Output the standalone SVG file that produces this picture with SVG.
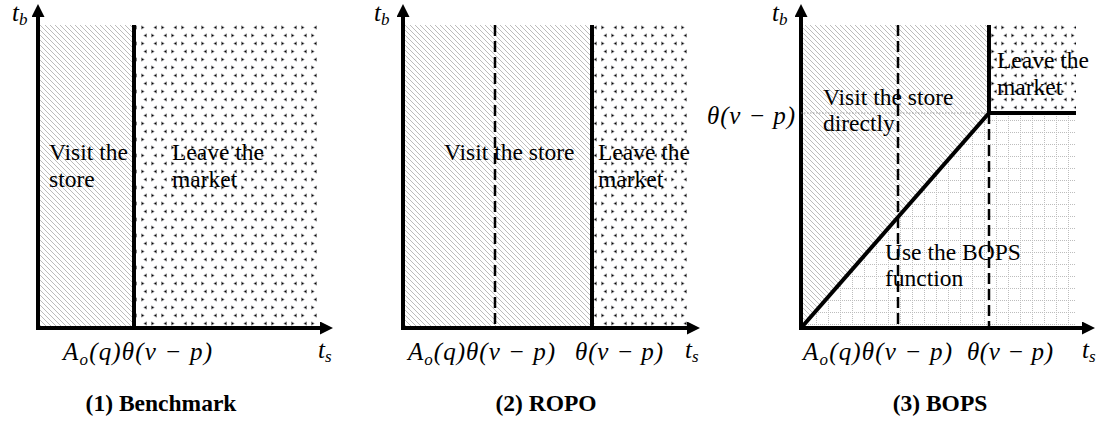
<svg xmlns="http://www.w3.org/2000/svg" width="1114" height="423" viewBox="0 0 1114 423">
<style>
.lbl{font-family:"Liberation Serif","Times New Roman",serif;font-size:23.5px;fill:#000}
.ttl{font-family:"Liberation Serif","Times New Roman",serif;font-size:23.5px;font-weight:bold;fill:#000;text-anchor:middle}
.math{font-family:"Liberation Serif","Times New Roman",serif;font-style:italic;font-size:25px;fill:#000}
.ax{stroke:#000;stroke-width:4;fill:none}
.bd{stroke:#000;stroke-width:4;fill:none}
.dash{stroke:#000;stroke-width:2.5;fill:none;stroke-dasharray:11 5}
.thin{stroke:#888;stroke-width:0.8;fill:none;stroke-dasharray:1.5 1.5}
</style>
<defs>
<pattern id="hatch" width="5" height="5" patternUnits="userSpaceOnUse">
<path d="M0,0 L5,5 M-1,4 L1,6 M4,-1 L6,1" stroke="#b4b4b4" stroke-width="0.9"/>
</pattern>
<pattern id="dots" width="20" height="16" patternUnits="userSpaceOnUse">
<path d="M6.5,1.5 L3.5,3.5 L6.5,5.5 M11.5,1.5 L14.5,3.5 L11.5,5.5 M16.5,9.5 L13.5,11.5 L16.5,13.5 M1.5,9.5 L4.5,11.5 L1.5,13.5" stroke="#d8d8de" stroke-width="0.8"/>
</pattern>
<pattern id="grid" width="12" height="12" patternUnits="userSpaceOnUse">
<path d="M0,0.5 H12 M0.5,0 V12" stroke="#bdbdbd" stroke-width="1" stroke-dasharray="1 1"/>
</pattern>
<marker id="arr" markerUnits="userSpaceOnUse" markerWidth="13" markerHeight="13" refX="5" refY="6.5" orient="auto">
<path d="M0,0 L13,6.5 L0,13 z" fill="#000"/>
</marker>
</defs>
<rect width="1114" height="423" fill="#fff"/>

<g id="panel1">
<g id="p1-visit"><rect x="38" y="25" width="96" height="303" fill="url(#hatch)"/>
<text class="lbl" x="49" y="160">Visit the</text><text class="lbl" x="49" y="187">store</text></g>
<g id="p1-leave"><rect x="134" y="25" width="184" height="303" fill="url(#dots)"/>
<text class="lbl" x="172" y="160">Leave the</text><text class="lbl" x="172" y="187">market</text></g>
<g id="p1-labels">
<text class="math" x="12" y="21">t<tspan font-size="17" dy="4">b</tspan></text>
<text class="math" x="318" y="358">t<tspan font-size="17" dy="4">s</tspan></text>
<text class="math" x="63" y="360" textLength="149" lengthAdjust="spacing">A<tspan font-size="17" dy="5">o</tspan><tspan dy="-5">(q)θ(v − p)</tspan></text>
<text class="ttl" x="161" y="411">(1) Benchmark</text>
</g>
</g>

<g id="panel2">
<g id="p2-visit"><rect x="403" y="25" width="189" height="303" fill="url(#hatch)"/>
<text class="lbl" x="444" y="160">Visit the store</text></g>
<g id="p2-leave"><rect x="592" y="25" width="96" height="303" fill="url(#dots)"/>
<text class="lbl" x="598" y="160">Leave the</text><text class="lbl" x="598" y="187">market</text></g>
<g id="p2-labels">
<text class="math" x="374" y="21">t<tspan font-size="17" dy="4">b</tspan></text>
<text class="math" x="685" y="358">t<tspan font-size="17" dy="4">s</tspan></text>
<text class="math" x="408" y="360" textLength="147" lengthAdjust="spacing">A<tspan font-size="17" dy="5">o</tspan><tspan dy="-5">(q)θ(v − p)</tspan></text>
<text class="math" x="575" y="360" textLength="88" lengthAdjust="spacing">θ(v − p)</text>
<text class="ttl" x="546" y="411">(2) ROPO</text>
</g>
</g>

<g id="panel3">
<g id="p3-visit"><polygon points="801,25 989,25 989,113 801,328" fill="url(#hatch)"/>
<text class="lbl" x="823" y="105">Visit the store</text><text class="lbl" x="823" y="131">directly</text></g>
<g id="p3-leave"><rect x="989" y="25" width="87" height="88" fill="url(#dots)"/>
<text class="lbl" x="997" y="68">Leave the</text><text class="lbl" x="997" y="95">market</text></g>
<g id="p3-bops"><polygon points="801,328 989,113 1076,113 1076,328" fill="url(#grid)"/>
<text class="lbl" x="885" y="260">Use the BOPS</text><text class="lbl" x="885" y="286">function</text></g>
<g id="p3-labels">
<text class="math" x="772" y="21">t<tspan font-size="17" dy="4">b</tspan></text>
<text class="math" x="1082" y="358">t<tspan font-size="17" dy="4">s</tspan></text>
<text class="math" x="707" y="124" textLength="88" lengthAdjust="spacing">θ(v − p)</text>
<text class="math" x="803" y="360" textLength="149" lengthAdjust="spacing">A<tspan font-size="17" dy="5">o</tspan><tspan dy="-5">(q)θ(v − p)</tspan></text>
<text class="math" x="967" y="360" textLength="86" lengthAdjust="spacing">θ(v − p)</text>
<text class="ttl" x="940" y="411">(3) BOPS</text>
</g>
</g>

<g id="connectors">
<path class="ax" d="M38,330 V12" marker-end="url(#arr)"/>
<path class="ax" d="M36,328 H325" marker-end="url(#arr)"/>
<path class="bd" d="M134,25 V328"/>

<path class="ax" d="M403,330 V12" marker-end="url(#arr)"/>
<path class="ax" d="M401,328 H692" marker-end="url(#arr)"/>
<path class="dash" d="M495,25 V328"/>
<path class="bd" d="M592,25 V328"/>

<path class="ax" d="M801,330 V12" marker-end="url(#arr)"/>
<path class="ax" d="M799,328 H1087" marker-end="url(#arr)"/>
<path class="thin" d="M801,113 H989"/>
<path class="dash" d="M898,25 V328"/>
<path class="dash" d="M989,113 V328"/>
<path class="bd" d="M989,25 V113 H1076"/>
<path class="bd" d="M801,328 L989,113"/>
</g>
</svg>
